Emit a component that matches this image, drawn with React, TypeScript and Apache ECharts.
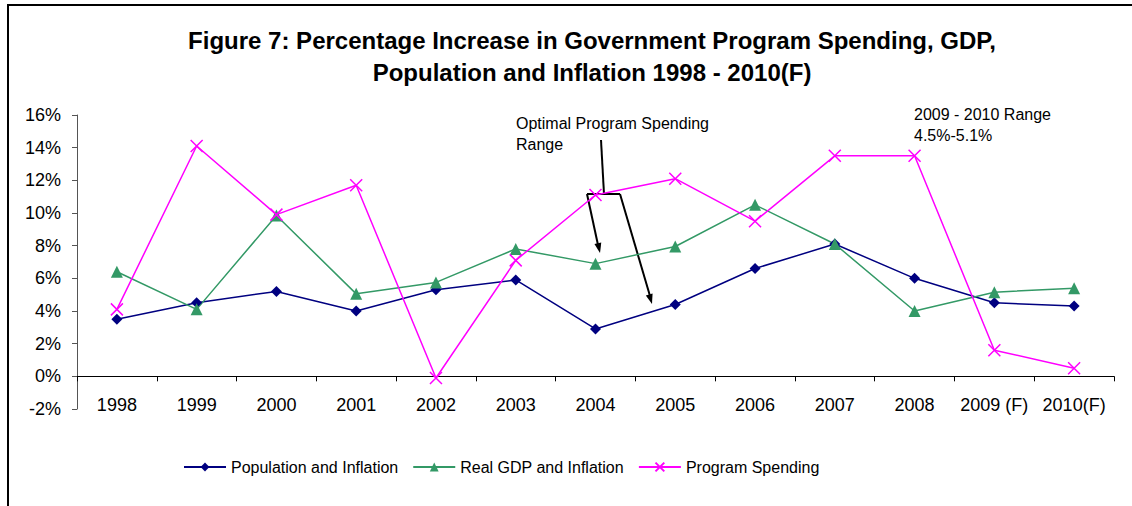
import React, { useEffect, useRef } from "react";
import * as echarts from "echarts";

const years = ["1998", "1999", "2000", "2001", "2002", "2003", "2004", "2005", "2006", "2007", "2008", "2009 (F)", "2010(F)"];
const populationInflation = [3.5, 4.5, 5.2, 4.0, 5.3, 5.9, 2.9, 4.4, 6.6, 8.1, 6.0, 4.5, 4.3];
const realGdpInflation = [6.4, 4.1, 9.85, 5.05, 5.75, 7.8, 6.9, 7.95, 10.5, 8.1, 4.0, 5.15, 5.4];
const programSpending = [4.1, 14.1, 9.9, 11.7, -0.1, 7.1, 11.1, 12.1, 9.5, 13.5, 13.5, 1.6, 0.5];
const yTicks = { min: -2, max: 16, interval: 2 };

const FONT = "Liberation Sans, Arial, sans-serif";

function arrowHead(x1: number, y1: number, x2: number, y2: number, len = 10, half = 3.5) {
  const dx = x2 - x1, dy = y2 - y1;
  const l = Math.sqrt(dx * dx + dy * dy);
  const ux = dx / l, uy = dy / l;
  const bx = x2 - ux * len, by = y2 - uy * len;
  const px = -uy * half, py = ux * half;
  return [[x2, y2], [bx + px, by + py], [bx - px, by - py]];
}

export default function App() {
  const ref = useRef<HTMLDivElement>(null);
  useEffect(() => {
    if (!ref.current) return;
    const chart = echarts.init(ref.current, undefined, { renderer: "svg" });
    const cross = "path://M0,0L10,10M10,0L0,10";
    const arrowStyle = { stroke: "#000", lineWidth: 2 };
    chart.setOption({
      animation: false,
      backgroundColor: "#fff",
      title: {
        text: "Figure 7: Percentage Increase in Government Program Spending, GDP,\nPopulation and Inflation 1998 - 2010(F)",
        left: 587,
        top: 19,
        textAlign: "center",
        textStyle: { fontFamily: FONT, fontWeight: "bold", fontSize: 24, color: "#000", lineHeight: 32 },
      },
      grid: { left: 77, right: 18, top: 115, bottom: 97 },
      legend: {
        left: 178,
        top: 454,
        itemWidth: 42,
        itemHeight: 11,
        itemGap: 14,
        textStyle: { fontFamily: FONT, fontSize: 16, color: "#000" },
        data: ["Population and Inflation", "Real GDP and Inflation", "Program Spending"],
      },
      xAxis: {
        type: "category",
        data: years,
        boundaryGap: true,
        axisLine: { onZero: true, lineStyle: { color: "#000", width: 1 } },
        axisTick: { show: true, length: 5, lineStyle: { color: "#000" } },
        axisLabel: { fontFamily: FONT, fontSize: 18, color: "#000", margin: -13, interval: 0 },
        splitLine: { show: false },
      },
      yAxis: {
        type: "value",
        min: yTicks.min,
        max: yTicks.max,
        interval: yTicks.interval,
        axisLine: { show: true, lineStyle: { color: "#555", width: 1 } },
        axisTick: { show: true, length: 5, lineStyle: { color: "#555" } },
        axisLabel: { fontFamily: FONT, fontSize: 18, color: "#000", margin: 16, formatter: (v: number) => v + "%" },
        splitLine: { show: false },
      },
      series: [
        {
          name: "Population and Inflation",
          type: "line",
          data: populationInflation,
          symbol: "diamond",
          symbolSize: 11,
          lineStyle: { color: "#000080", width: 1.5 },
          itemStyle: { color: "#000080" },
        },
        {
          name: "Real GDP and Inflation",
          type: "line",
          data: realGdpInflation,
          symbol: "triangle",
          symbolSize: 12,
          lineStyle: { color: "#339966", width: 1.5 },
          itemStyle: { color: "#339966" },
        },
        {
          name: "Program Spending",
          type: "line",
          data: programSpending,
          symbol: cross,
          symbolSize: 12,
          lineStyle: { color: "#FF00FF", width: 1.5 },
          itemStyle: { color: "none", borderColor: "#FF00FF", borderWidth: 1.5 },
        },
      ],
      graphic: [
        { type: "rect", shape: { x: 8, y: 5, width: 1200, height: 600 }, style: { fill: "none", stroke: "#000", lineWidth: 2 }, silent: true },
        { type: "text", x: 516, y: 113, style: { text: "Optimal Program Spending\nRange", fontFamily: FONT, fontSize: 16, fill: "#000", lineHeight: 21 } },
        { type: "text", x: 914, y: 104, style: { text: "2009 - 2010 Range\n4.5%-5.1%", fontFamily: FONT, fontSize: 16, fill: "#000", lineHeight: 21 } },
        { type: "line", shape: { x1: 601, y1: 140, x2: 604, y2: 194 }, style: arrowStyle },
        { type: "line", shape: { x1: 587, y1: 194, x2: 620, y2: 194 }, style: arrowStyle },
        { type: "line", shape: { x1: 587, y1: 194, x2: 598, y2: 245 }, style: arrowStyle },
        { type: "polygon", shape: { points: arrowHead(587, 194, 600, 253) }, style: { fill: "#000" } },
        { type: "line", shape: { x1: 620, y1: 194, x2: 650, y2: 296 }, style: arrowStyle },
        { type: "polygon", shape: { points: arrowHead(620, 194, 652, 304) }, style: { fill: "#000" } },
      ],
    });
    return () => chart.dispose();
  }, []);
  return <div ref={ref} style={{ position: "fixed", left: 0, top: 0, width: 1132, height: 506 }} />;
}
